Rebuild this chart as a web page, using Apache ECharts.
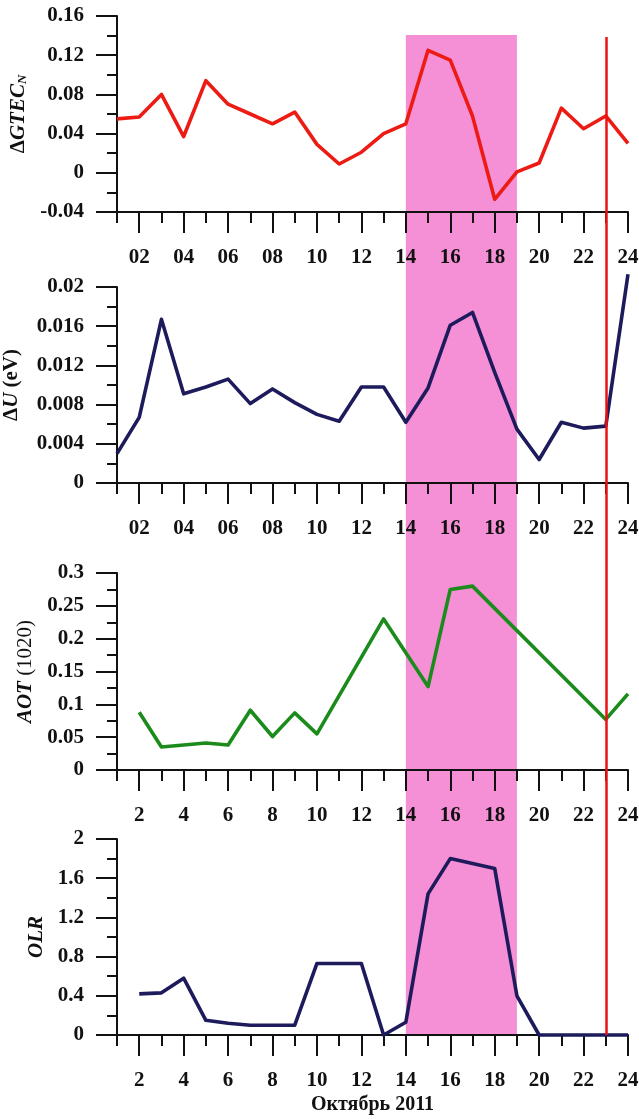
<!DOCTYPE html>
<html>
<head>
<meta charset="utf-8">
<script src="https://cdn.jsdelivr.net/npm/echarts@6/dist/echarts.min.js"></script>
<style>
html,body{margin:0;padding:0;background:#fff;}
#chart{width:639px;height:1119px;}
</style>
</head>
<body>
<div id="chart"></div>
<script>
// Days of October 2011
const days = ['1','2','3','4','5','6','7','8','9','10','11','12','13','14','15','16','17','18','19','20','21','22','23','24'];
const topTickLabels = {'2':'02','4':'04','6':'06','8':'08','10':'10','12':'12','14':'14','16':'16','18':'18','20':'20','22':'22','24':'24'};

// ΔGTEC_N
const gtec = [0.055,0.057,0.080,0.037,0.094,0.070,0.060,0.050,0.062,0.029,0.009,0.021,0.040,0.050,0.125,0.115,0.058,-0.027,0.001,0.010,0.066,0.045,0.058,0.030];
// ΔU (eV)
const deltaU = [0.0030,0.0067,0.0167,0.0091,0.0098,0.0106,0.0081,0.0096,0.0082,0.0070,0.0063,0.0098,0.0098,0.0062,0.0097,0.0161,0.0174,0.0113,0.0055,0.0024,0.0062,0.0056,0.0058,0.0213];
// AOT (1020)
const aot = [null,0.088,0.035,0.038,0.041,0.038,0.091,0.051,0.087,0.055,null,null,0.230,null,0.127,0.275,0.280,null,null,null,null,null,0.077,0.116];
// OLR
const olr = [null,0.42,0.43,0.58,0.15,0.12,0.10,0.10,0.10,0.73,0.73,0.73,0.00,0.13,1.44,1.80,1.75,1.70,0.40,0.00,0.00,0.00,0.00,0.00];

// Highlighted interval and event day
const bandDays = ['14','19'];
const eventDay = '23';

const FONT = 'Liberation Serif';
const AX = '#111';
const grids = [
  {left:117, right:11, top:16, height:196, outerBoundsMode:'none', containLabel:false},
  {left:117, right:11, top:287, height:196, outerBoundsMode:'none', containLabel:false},
  {left:117, right:11, top:573, height:197, outerBoundsMode:'none', containLabel:false},
  {left:117, right:11, top:839, height:196, outerBoundsMode:'none', containLabel:false},
  {left:117, right:11, top:35, height:1000, outerBoundsMode:'none', containLabel:false}
];

function xAxesFor(i, padLabels, extra){
  const main = Object.assign({
    type:'category', gridIndex:i, data:days, boundaryGap:false, position:'bottom', z:3,
    axisLine:{show:true, onZero:false, lineStyle:{color:AX, width:2}},
    axisTick:{show:true, length:21, interval:(idx)=>idx%2===1, lineStyle:{color:AX, width:2}},
    axisLabel:{show:true, interval:(idx)=>idx%2===1, margin:35, color:'#111', fontFamily:FONT, fontWeight:'bold', fontSize:21,
      formatter:(v)=> padLabels ? topTickLabels[v] : v},
    splitLine:{show:false}
  }, extra||{});
  const minor = {
    type:'category', gridIndex:i, data:days, boundaryGap:false, position:'bottom', z:3,
    axisLine:{show:false, onZero:false},
    axisTick:{show:true, length:11, interval:0, lineStyle:{color:AX, width:2}},
    axisLabel:{show:false}, splitLine:{show:false}
  };
  return [main, minor];
}

function yAxisFor(i, min, max, interval, name, nameGap, rich){
  return {
    type:'value', gridIndex:i, min:min, max:max, interval:interval, z:3,
    name:name, nameLocation:'middle', nameRotate:90, nameGap:nameGap,
    nameTextStyle:{fontFamily:FONT, fontWeight:'bold', fontSize:21, color:'#111', rich:rich},
    axisLine:{show:true, lineStyle:{color:AX, width:2}},
    axisTick:{show:true, length:21, lineStyle:{color:AX, width:2}},
    minorTick:{show:true, splitNumber:2, length:10, lineStyle:{color:AX, width:2}},
    axisLabel:{margin:33, color:'#111', fontFamily:FONT, fontWeight:'bold', fontSize:21},
    splitLine:{show:false}
  };
}

const baseRich = {
  n:{fontFamily:FONT, fontWeight:'bold', fontSize:21, color:'#111'},
  it:{fontFamily:FONT, fontWeight:'bold', fontStyle:'italic', fontSize:21, color:'#111'},
  nn:{fontFamily:FONT, fontWeight:'normal', fontSize:21, color:'#111'},
  sub:{fontFamily:FONT, fontWeight:'bold', fontStyle:'italic', fontSize:13, color:'#111', verticalAlign:'bottom', lineHeight:13}
};

const xAxes = [].concat(
  xAxesFor(0, true),
  xAxesFor(1, true),
  xAxesFor(2, false),
  xAxesFor(3, false, {name:'Октябрь 2011', nameLocation:'middle', nameGap:60,
    nameTextStyle:{fontFamily:FONT, fontWeight:'bold', fontSize:20, color:'#111'}}),
  [{type:'category', gridIndex:4, data:days, boundaryGap:false, show:false}]
);

const yAxes = [
  yAxisFor(0, -0.04, 0.16, 0.04, '{n|Δ}{it|GTEC}{sub|N}', 88, baseRich),
  yAxisFor(1, 0, 0.02, 0.004, '{n|Δ}{it|U}{n| (eV)}', 95, baseRich),
  yAxisFor(2, 0, 0.3, 0.05, '{it|AOT}{nn| (1020)}', 75, baseRich),
  yAxisFor(3, 0, 2, 0.4, '{it|OLR}', 70, baseRich),
  {type:'value', gridIndex:4, min:0, max:1, show:false}
];

function lineSeries(xi, yi, data, color){
  return {type:'line', xAxisIndex:xi, yAxisIndex:yi, data:data, z:4, connectNulls:true, clip:false,
    showSymbol:false, symbol:'none', lineStyle:{color:color, width:3.6, join:'round'}, silent:true};
}

const option = {
  animation:false,
  backgroundColor:'#ffffff',
  grid:grids,
  xAxis:xAxes,
  yAxis:yAxes,
  series:[
    {type:'line', xAxisIndex:8, yAxisIndex:4, data:[], z:1, silent:true,
      markArea:{silent:true, z:1, itemStyle:{color:'#f590d6', opacity:1},
        data:[[{xAxis:bandDays[0]},{xAxis:bandDays[1]}]]}},
    lineSeries(0, 0, gtec, '#ec1c14'),
    lineSeries(2, 1, deltaU, '#1e1b5c'),
    lineSeries(4, 2, aot, '#1b8c1b'),
    lineSeries(6, 3, olr, '#1e1b5c'),
    {type:'line', xAxisIndex:8, yAxisIndex:4, data:[], z:10, silent:true,
      markLine:{silent:true, z:10, symbol:['none','none'], label:{show:false},
        lineStyle:{color:'#ee1010', width:2.5, type:'solid'},
        data:[[{coord:[eventDay, 0]},{coord:[eventDay, 0.998]}]]}}
  ]
};

const chart = echarts.init(document.getElementById('chart'), null, {renderer:'canvas'});
chart.setOption(option);
</script>
</body>
</html>
